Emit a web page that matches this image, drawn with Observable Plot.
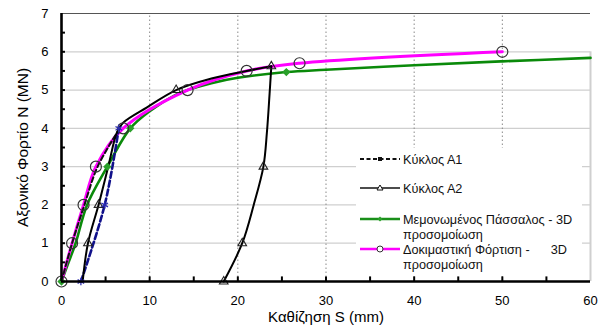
<!DOCTYPE html>
<html><head><meta charset="utf-8">
<script src="https://cdn.jsdelivr.net/npm/d3@7"></script>
<script src="https://cdn.jsdelivr.net/npm/@observablehq/plot@0.6"></script>
<style>
body{margin:0;background:#fff;}
#wrap{position:relative;width:606px;height:329px;font-family:"Liberation Sans",Arial,sans-serif;}
#wrap svg{display:block;}
#legend{position:absolute;left:0;top:0;}
</style></head><body><div id="wrap"></div>
<script>
// ---- data ----
const xTickLabels = [0, 10, 20, 30, 40, 50, 60];
const yTickLabels = [0, 1, 2, 3, 4, 5, 6, 7];
const xMinorTicks = [5, 10, 15, 20, 25, 30, 35, 40, 45, 50, 55];
const yMinorTicks = [0.5, 1, 1.5, 2, 2.5, 3, 3.5, 4, 4.5, 5, 5.5, 6, 6.5];
const yGridLines = [1, 2, 3, 4, 5, 6];
const xGridLines = [10, 20, 30, 40, 50];

// Κύκλος Α1 (loading, dashed black)
const a1LoadS = [0, 1.2, 2.6, 4.1, 6.6];
const a1LoadN = [0, 1, 2, 3, 4];
// Κύκλος Α1 (reloading, dashed blue)
const a1ReloadS = [2.2, 4.9, 6.5];
const a1ReloadN = [0, 2, 4];

// Κύκλος Α2 loading
const a2LoadS = [2.4, 3.0, 4.2, 5.3, 6.3, 7.0, 9.7, 13, 17, 21, 23.8];
const a2LoadN = [0, 1, 2, 3, 3.9, 4.15, 4.55, 5.0, 5.3, 5.5, 5.62];
// Κύκλος Α2 unloading
const a2UnloadS = [23.8, 23.6, 23.3, 22.9, 21.8, 20.5, 18.4];
const a2UnloadN = [5.62, 4.9, 3.9, 3.0, 2.0, 1.0, 0];
const a2MarkS = [3.0, 4.2, 13, 23.8, 22.9, 20.5, 18.4];
const a2MarkN = [1, 2, 5.0, 5.62, 3.0, 1.0, 0];

// Μεμονωμένος Πάσσαλος - 3D
const pileS = [0, 0.8, 1.6, 2.9, 5.2, 7.8, 10, 13, 14.3, 17, 20, 25.5, 30, 40, 50, 60];
const pileN = [0, 0.5, 1, 2, 3, 4, 4.45, 4.88, 5.0, 5.18, 5.32, 5.47, 5.53, 5.65, 5.75, 5.84];
const pileMarkS = [0, 5.2, 7.8, 25.5];
const pileMarkN = [0, 3, 4, 5.47];

// Δοκιμαστική Φόρτιση - 3D
const testS = [0, 1.2, 2.5, 3.9, 7.0, 14.3, 21.0, 27.0, 50];
const testN = [0, 1, 2, 3, 4, 5, 5.5, 5.7, 6];

const xLabel = "Καθίζηση S (mm)";
const yLabel = "Αξονικό Φορτίο N (MN)";
const legendLabels = [
  ["Κύκλος Α1"],
  ["Κύκλος Α2"],
  ["Μεμονωμένος Πάσσαλος - 3D", "προσομοίωση"],
  ["Δοκιμαστική Φόρτιση -      3D", "προσομοίωση"]
];

const zip = (xs, ys) => xs.map((x, i) => ({x, y: ys[i]}));
const a1Load = zip(a1LoadS, a1LoadN);
const a1Reload = zip(a1ReloadS, a1ReloadN);
const a2Load = zip(a2LoadS, a2LoadN);
const a2Unload = zip(a2UnloadS, a2UnloadN);
const a2Mark = zip(a2MarkS, a2MarkN);
const pile = zip(pileS, pileN);
const pileMark = zip(pileMarkS, pileMarkN);
const test = zip(testS, testN);

const font = '"Liberation Sans", Arial, sans-serif';

const chart = Plot.plot({
  width: 606, height: 329,
  marginLeft: 61, marginRight: 16, marginTop: 13, marginBottom: 48,
  x: {domain: [0, 60]},
  y: {domain: [0, 7]},
  style: {fontFamily: font, fontSize: "13px", color: "#000", background: "#fff", overflow: "visible"},
  marks: [
    Plot.ruleY(yGridLines, {stroke: "#cfcfcf", strokeWidth: 1.3}),
    Plot.ruleX(xGridLines, {y1: 0, y2: 7, stroke: "#8a8a8a", strokeWidth: 1, strokeDasharray: "1.5,2.5"}),
    Plot.ruleX([60], {y1: 0, y2: 6, stroke: "#cfcfcf", strokeWidth: 2}),
    Plot.ruleY([7], {x1: 0, x2: 60, stroke: "#555", strokeWidth: 1.2}),
    Plot.axisX({ticks: xTickLabels, tickSize: 0, tickPadding: 14, fontSize: 13, tickFormat: d3.format("d"), label: null}),
    Plot.axisY({ticks: yTickLabels, tickSize: 0, tickPadding: 13, fontSize: 13, tickFormat: d3.format("d"), label: null}),
    Plot.text([xLabel], {frameAnchor: "bottom", dy: 40, fontSize: 15, textAnchor: "middle"}),
    Plot.text([yLabel], {frameAnchor: "left", dx: -38, rotate: -90, fontSize: 15.5, textAnchor: "middle"}),
    // data
    Plot.line(pile, {x: "x", y: "y", stroke: "#0a8a0a", strokeWidth: 2.6, curve: "catmull-rom"}),
    Plot.line(test, {x: "x", y: "y", stroke: "#ff00ff", strokeWidth: 3, curve: "catmull-rom"}),
    Plot.line(a1Load, {x: "x", y: "y", stroke: "#111", strokeWidth: 2, strokeDasharray: "5,3", curve: "catmull-rom"}),
    Plot.line(a1Reload, {x: "x", y: "y", stroke: "#10108a", strokeWidth: 2.6, strokeDasharray: "6,3", curve: "catmull-rom"}),
    Plot.line(a2Load, {x: "x", y: "y", stroke: "#000", strokeWidth: 2, curve: "catmull-rom"}),
    Plot.line(a2Unload, {x: "x", y: "y", stroke: "#000", strokeWidth: 2, curve: "catmull-rom"}),
    Plot.dot(pileMark, {x: "x", y: "y", symbol: "diamond2", r: 2.8, fill: "#2aa02a", stroke: "#2aa02a"}),
    Plot.dot(test, {x: "x", y: "y", symbol: "circle", r: 5.5, fill: "none", stroke: "#333", strokeWidth: 1.2}),
    Plot.dot(a2Mark, {x: "x", y: "y", symbol: "triangle", r: 3.2, fill: "none", stroke: "#222", strokeWidth: 1.1}),
    Plot.dot(a1Reload, {x: "x", y: "y", symbol: "asterisk", r: 3.6, stroke: "#2a2ab0", strokeWidth: 1.3}),
    // axis ticks & lines
    Plot.ruleX(xMinorTicks, {y1: 0, y2: 0.12, stroke: "#000", strokeWidth: 2}),
    Plot.ruleY(yMinorTicks, {x1: 0, x2: 0.45, stroke: "#000", strokeWidth: 2}),
    Plot.ruleX([0], {y1: 0, y2: 7, stroke: "#000", strokeWidth: 2.6}),
    Plot.ruleY([0], {x1: 0, x2: 60, stroke: "#000", strokeWidth: 2.6})
  ]
});

const wrap = document.getElementById("wrap");
wrap.appendChild(chart);

// legend overlay
const lg = d3.select(wrap).append("svg").attr("id", "legend")
  .attr("width", 606).attr("height", 329)
  .style("font-family", font).style("font-size", "12.7px");
lg.append("rect").attr("x", 356).attr("y", 148).attr("width", 226).attr("height", 128).attr("fill", "#fff");
const rowsY = [159, 188, 219, 249];
const sx1 = 360, sx2 = 400, tx = 403;
const styles = [
  {stroke: "#111", dash: "4,2.5", w: 2},
  {stroke: "#111", dash: null, w: 1.6},
  {stroke: "#1a8f1a", dash: null, w: 2.4},
  {stroke: "#ff00ff", dash: null, w: 2.4}
];
rowsY.forEach((y, i) => {
  const s = styles[i];
  const l = lg.append("line").attr("x1", sx1).attr("x2", sx2).attr("y1", y).attr("y2", y)
    .attr("stroke", s.stroke).attr("stroke-width", s.w);
  if (s.dash) l.attr("stroke-dasharray", s.dash);
  const cx = 380;
  if (i === 0) lg.append("rect").attr("x", cx - 2).attr("y", y - 2).attr("width", 4).attr("height", 4).attr("fill", "#111");
  if (i === 1) lg.append("path").attr("d", `M${cx},${y-3}L${cx+3},${y+2}L${cx-3},${y+2}Z`).attr("fill", "#fff").attr("stroke", "#111");
  if (i === 2) lg.append("path").attr("d", `M${cx},${y-2.5}L${cx+2.5},${y}L${cx},${y+2.5}L${cx-2.5},${y}Z`).attr("fill", "#2aa02a");
  if (i === 3) lg.append("circle").attr("cx", cx).attr("cy", y).attr("r", 3).attr("fill", "#fff").attr("stroke", "#333");
  legendLabels[i].forEach((t, j) => {
    lg.append("text").attr("x", tx).attr("y", y + 1 + j * 14.5).attr("dy", "0.35em").attr("fill", "#111")
      .attr("xml:space", "preserve").style("white-space", "pre").text(t);
  });
});
</script></body></html>
